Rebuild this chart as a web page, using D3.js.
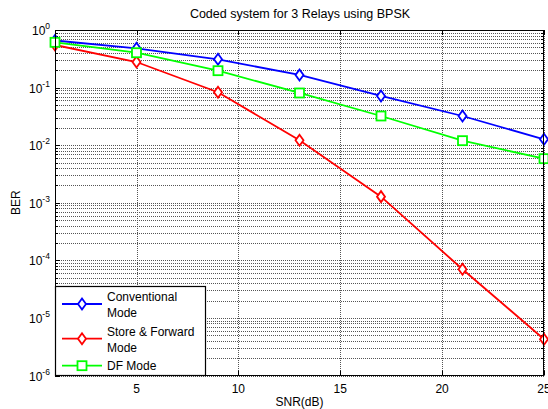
<!DOCTYPE html>
<html>
<head>
<meta charset="utf-8">
<script src="https://cdn.jsdelivr.net/npm/d3@7"></script>
<style>
  body { margin: 0; background: #fff; }
  svg { display: block; font-family: "Liberation Sans", Arial, sans-serif; }
</style>
</head>
<body>
<svg id="chart" width="548" height="409"></svg>
<script>
// data
var snr = [1, 5, 9, 13, 17, 21, 25];
var conventional = [0.657, 0.481, 0.310, 0.1655, 0.0715, 0.0321, 0.01265];
var storeForward = [0.549, 0.278, 0.0829, 0.01216, 0.001277, 7.0e-5, 4.27e-6];
var dfMode = [0.611, 0.403, 0.1965, 0.0806, 0.0321, 0.01197, 0.00583];
var xTicks = [5, 10, 15, 20, 25];
var yExponents = [0, -1, -2, -3, -4, -5, -6];

var series = [
  {name: ["Conventional", "Mode"], values: conventional, color: "#0000ff", marker: "diamond"},
  {name: ["Store & Forward", "Mode"], values: storeForward, color: "#ff0000", marker: "diamond"},
  {name: ["DF Mode"], values: dfMode, color: "#00ff00", marker: "square"}
];

// margins
var margin = {top: 30, right: 4, bottom: 33.5, left: 55},
    width = 548 - margin.left - margin.right,
    height = 409 - margin.top - margin.bottom;

var svg = d3.select("#chart");
var g = svg.append("g").attr("transform", "translate(" + margin.left + "," + margin.top + ")");

var x = d3.scaleLinear().domain([1, 25]).range([0, width]);
var y = d3.scaleLog().domain([1e-6, 1]).range([height, 0]);

// minor values for log grid
var minor = [];
yExponents.forEach(function(e) {
  if (e === 0) return;
  for (var k = 2; k <= 9; k++) minor.push(k * Math.pow(10, e));
});

// grid
g.selectAll(".hgrid")
  .data(minor.concat(yExponents.map(function(e) { return Math.pow(10, e); })))
  .enter().append("line")
  .attr("x1", 0).attr("x2", width)
  .attr("y1", function(d) { return Math.round(y(d)) + 0.5; })
  .attr("y2", function(d) { return Math.round(y(d)) + 0.5; })
  .attr("stroke", "#555").attr("stroke-dasharray", "1,1").attr("stroke-width", 1);

g.selectAll(".vgrid")
  .data(xTicks)
  .enter().append("line")
  .attr("x1", function(d) { return Math.round(x(d)) + 0.5; })
  .attr("x2", function(d) { return Math.round(x(d)) + 0.5; })
  .attr("y1", 0).attr("y2", height)
  .attr("stroke", "#555").attr("stroke-dasharray", "1,1").attr("stroke-width", 1);

// ticks inside the box
g.selectAll(".ytick")
  .data(minor)
  .enter().append("line")
  .attr("x1", 0).attr("x2", 3)
  .attr("y1", function(d) { return Math.round(y(d)) + 0.5; })
  .attr("y2", function(d) { return Math.round(y(d)) + 0.5; })
  .attr("stroke", "#000");
g.selectAll(".ytickr")
  .data(minor)
  .enter().append("line")
  .attr("x1", width - 3).attr("x2", width)
  .attr("y1", function(d) { return Math.round(y(d)) + 0.5; })
  .attr("y2", function(d) { return Math.round(y(d)) + 0.5; })
  .attr("stroke", "#000");
g.selectAll(".ytickM")
  .data(yExponents)
  .enter().append("line")
  .attr("x1", 0).attr("x2", 5)
  .attr("y1", function(d) { return Math.round(y(Math.pow(10, d))) + 0.5; })
  .attr("y2", function(d) { return Math.round(y(Math.pow(10, d))) + 0.5; })
  .attr("stroke", "#000");
g.selectAll(".xtick")
  .data(xTicks)
  .enter().append("line")
  .attr("x1", function(d) { return Math.round(x(d)) + 0.5; })
  .attr("x2", function(d) { return Math.round(x(d)) + 0.5; })
  .attr("y1", height).attr("y2", height - 5)
  .attr("stroke", "#000");
g.selectAll(".xtickt")
  .data(xTicks)
  .enter().append("line")
  .attr("x1", function(d) { return Math.round(x(d)) + 0.5; })
  .attr("x2", function(d) { return Math.round(x(d)) + 0.5; })
  .attr("y1", 0).attr("y2", 5)
  .attr("stroke", "#000");

// tick labels
g.selectAll(".xlabel")
  .data(xTicks)
  .enter().append("text")
  .attr("x", function(d) { return x(d); })
  .attr("y", height + 17)
  .attr("text-anchor", "middle")
  .attr("font-size", "12px")
  .text(function(d) { return d; });

var yl = g.selectAll(".ylabel")
  .data(yExponents)
  .enter().append("text")
  .attr("x", -23)
  .attr("y", function(d) { return y(Math.pow(10, d)) + 5; })
  .attr("text-anchor", "start")
  .attr("font-size", "12px");
yl.append("tspan").text("10").attr("dx", function(d) { return d < 0 ? -3 : 0; });
yl.append("tspan").attr("dy", -6).attr("font-size", "8.5px")
  .text(function(d) { return d < 0 ? "-" + (-d) : d; });

// lines and markers
var line = d3.line()
  .x(function(d, i) { return x(snr[i]); })
  .y(function(d) { return y(d); });

function drawMarker(sel, type, color) {
  if (type === "diamond") {
    sel.append("path").attr("d", "M0,-5.5L4,0L0,5.5L-4,0Z");
  } else {
    sel.append("rect").attr("x", -4.5).attr("y", -4.5).attr("width", 9).attr("height", 9);
  }
  sel.selectAll("path,rect").attr("fill", "#fff").attr("stroke", color).attr("stroke-width", 1.8);
}

series.forEach(function(s) {
  g.append("path")
    .datum(s.values)
    .attr("fill", "none")
    .attr("stroke", s.color)
    .attr("stroke-width", 1.8)
    .attr("d", line);
});
series.forEach(function(s) {
  g.selectAll(null)
    .data(s.values)
    .enter().append("g")
    .attr("transform", function(d, i) { return "translate(" + x(snr[i]) + "," + y(d) + ")"; })
    .each(function() { drawMarker(d3.select(this), s.marker, s.color); });
});

// box
g.append("rect")
  .attr("x", 0.5).attr("y", 0.5).attr("width", width - 1).attr("height", height - 0.5)
  .attr("fill", "none").attr("stroke", "#000").attr("stroke-width", 1);

// legend
var legend = g.append("g");
legend.append("rect")
  .attr("x", 0.5).attr("y", 256.5).attr("width", 150).attr("height", height - 256.5)
  .attr("fill", "#fff").attr("stroke", "#000").attr("stroke-width", 1.2);

var rowY = [274, 308.7, 335.7];
series.forEach(function(s, i) {
  var ly = rowY[i];
  legend.append("line")
    .attr("x1", 7).attr("x2", 47).attr("y1", ly).attr("y2", ly)
    .attr("stroke", s.color).attr("stroke-width", 1.8);
  var m = legend.append("g").attr("transform", "translate(27," + ly + ")");
  drawMarker(m, s.marker, s.color);
  var t = legend.append("text")
    .attr("x", 52).attr("y", ly - 3)
    .attr("font-size", "12px");
  s.name.forEach(function(n, j) {
    t.append("tspan").attr("x", 52).attr("dy", j === 0 ? (s.name.length > 1 ? 0 : 7.5) : 16).text(n);
  });
});

// title and axis titles
svg.append("text")
  .attr("x", margin.left + width / 2 + 0.5).attr("y", 18)
  .attr("text-anchor", "middle").attr("font-size", "12.5px")
  .text("Coded system for 3 Relays using BPSK");

svg.append("text")
  .attr("x", margin.left + width / 2).attr("y", 406)
  .attr("text-anchor", "middle").attr("font-size", "12px")
  .text("SNR(dB)");

svg.append("text")
  .attr("transform", "translate(20," + (margin.top + height / 2) + ") rotate(-90)")
  .attr("text-anchor", "middle").attr("font-size", "12px")
  .text("BER");
</script>
</body>
</html>
